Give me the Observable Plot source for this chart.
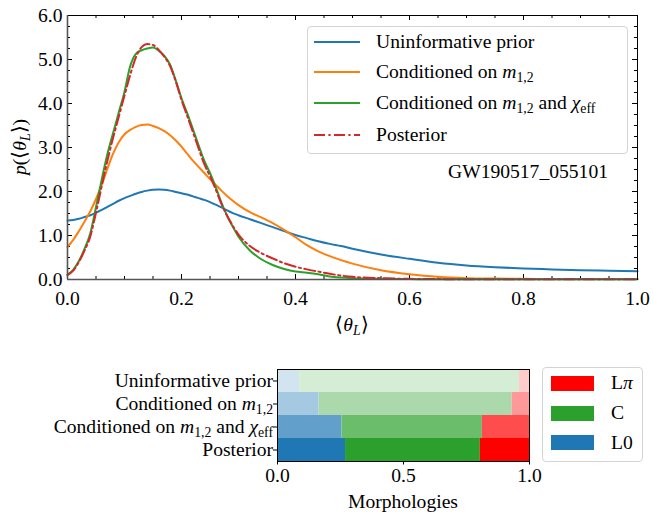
<!DOCTYPE html>
<html>
<head>
<meta charset="utf-8">
<script src="https://cdn.jsdelivr.net/npm/d3@7"></script>
<script src="https://cdn.jsdelivr.net/npm/@observablehq/plot@0.6"></script>
<style>
  body { margin: 0; background: #fff; }
  #root {
    position: relative; width: 653px; height: 512px; overflow: hidden;
    font-family: "Liberation Serif", serif;
    font-size: 19.6px; color: #000;
  }
  #root .abs { position: absolute; white-space: nowrap; line-height: 1; }
  #root sub { font-size: 70%; vertical-align: baseline; position: relative; top: 0.32em; }
  #root .math { font-style: italic; }
  .legend-box {
    position: absolute; border: 1px solid #d4d4d4; border-radius: 4px;
    background: rgba(255,255,255,0.85); box-sizing: border-box;
  }
</style>
</head>
<body>
<div id="root"></div>
<script>
// ---- Density curves of the mean tilt <theta_L> for GW190517_055101 ----
const theta = [
  0.00, 0.01, 0.02, 0.03, 0.04, 0.05, 0.06, 0.07, 0.08, 0.09,
  0.10, 0.11, 0.12, 0.13, 0.14, 0.15, 0.16, 0.17, 0.18, 0.19,
  0.20, 0.21, 0.22, 0.23, 0.24, 0.25, 0.26, 0.27, 0.28, 0.29,
  0.30, 0.32, 0.34, 0.36, 0.38, 0.40, 0.42, 0.44, 0.46, 0.48,
  0.50, 0.55, 0.60, 0.65, 0.70, 0.75, 0.80, 0.85, 0.90, 0.95, 1.00
];
const priorDensity = [
  1.34, 1.35, 1.38, 1.42, 1.46, 1.52, 1.58, 1.65, 1.72, 1.79,
  1.85, 1.90, 1.95, 1.99, 2.02, 2.04, 2.045, 2.04, 2.02, 1.99,
  1.96, 1.93, 1.89, 1.85, 1.81, 1.76, 1.70, 1.64, 1.57, 1.51,
  1.46, 1.37, 1.28, 1.19, 1.10, 1.01, 0.94, 0.87, 0.81, 0.76,
  0.70, 0.57, 0.47, 0.38, 0.32, 0.28, 0.25, 0.23, 0.21, 0.20, 0.19
];
const massDensity = [
  0.74, 0.90, 1.10, 1.32, 1.55, 1.83, 2.15, 2.52, 2.86, 3.12,
  3.30, 3.40, 3.47, 3.51, 3.52, 3.49, 3.44, 3.37, 3.28, 3.16,
  3.02, 2.86, 2.70, 2.56, 2.42, 2.28, 2.15, 2.02, 1.90, 1.79,
  1.69, 1.53, 1.41, 1.28, 1.13, 0.96, 0.78, 0.64, 0.53, 0.44,
  0.36, 0.21, 0.12, 0.06, 0.03, 0.02, 0.015, 0.01, 0.01, 0.01, 0.01
];
const massSpinDensity = [
  0.11, 0.22, 0.42, 0.70, 1.05, 1.65, 2.27, 2.85, 3.33, 3.80,
  4.27, 4.85, 5.13, 5.21, 5.25, 5.27, 5.20, 5.08, 4.88, 4.52,
  4.12, 3.78, 3.42, 3.05, 2.70, 2.42, 2.10, 1.75, 1.45, 1.20,
  0.97, 0.66, 0.46, 0.33, 0.24, 0.18, 0.155, 0.12, 0.07, 0.045,
  0.03, 0.015, 0.01, 0.005, 0.005, 0.005, 0.005, 0.005, 0.005, 0.005, 0.005
];
const posteriorDensity = [
  0.10, 0.20, 0.40, 0.66, 0.98, 1.52, 2.12, 2.70, 3.22, 3.70,
  4.18, 4.65, 5.05, 5.28, 5.35, 5.33, 5.22, 5.06, 4.85, 4.50,
  4.08, 3.72, 3.35, 2.98, 2.62, 2.35, 2.05, 1.72, 1.45, 1.22,
  1.02, 0.76, 0.60, 0.48, 0.37, 0.29, 0.23, 0.18, 0.13, 0.09,
  0.06, 0.03, 0.015, 0.01, 0.005, 0.005, 0.005, 0.005, 0.005, 0.005, 0.005
];
const xTickLabels = [0.0, 0.2, 0.4, 0.6, 0.8, 1.0];
const yTickLabels = [0.0, 1.0, 2.0, 3.0, 4.0, 5.0, 6.0];

// ---- Morphology fractions per analysis ----
const analyses = ["prior", "mass", "massSpin", "posterior"];
const morphologies = ["L0", "C", "Lπ"];
const fracL0  = [0.088, 0.165, 0.256, 0.270];
const fracC   = [0.872, 0.766, 0.557, 0.535];
const fracLpi = [0.040, 0.069, 0.187, 0.195];
const morphTickLabels = [0.0, 0.5, 1.0];

// ---- styling ----
const FONT = '"Liberation Serif", serif';
const FS = "19.6px";
const palette = { prior: "#1f77b4", mass: "#ff7f0e", massSpin: "#2ca02c", posterior: "#d62728" };
const morphColor = { "L0": "#1f77b4", "C": "#2ca02c", "Lπ": "#ff0000" };
const rowAlpha = [0.2, 0.4, 0.7, 1.0];
const dashDot = "11,3.4,2.2,3.4";

const root = document.getElementById("root");
const fmt1 = d3.format(".1f");

// ================= upper panel: densities =================
const W = 653, H1 = 340, ML = 67, MR = 16, MT = 15, MB = 61;
const frameW = W - ML - MR, frameH = H1 - MT - MB;
const xMinor = d3.range(0, 21).map(i => i * 0.05);
const yMinor = d3.range(0, 25).map(i => i * 0.25);
const curve = (values) => theta.map((t, i) => ({ t, p: values[i] }));
const lineOpts = (key, extra = {}) => ({ x: "t", y: "p", stroke: palette[key], strokeWidth: 2, curve: "monotone-x", ...extra });

const topPlot = Plot.plot({
  width: W, height: H1, marginLeft: ML, marginRight: MR, marginTop: MT, marginBottom: MB,
  x: { domain: [0, 1] },
  y: { domain: [0, 6] },
  style: { fontFamily: FONT, fontSize: FS, color: "#000", background: "transparent", overflow: "visible" },
  marks: [
    // inward ticks on all four sides
    Plot.tickX(xMinor, { x: d => d, stroke: "#000", insetTop: frameH - 3 }),
    Plot.tickX(xMinor, { x: d => d, stroke: "#000", insetBottom: frameH - 3 }),
    Plot.tickX(xTickLabels, { x: d => d, stroke: "#000", insetTop: frameH - 5 }),
    Plot.tickX(xTickLabels, { x: d => d, stroke: "#000", insetBottom: frameH - 5 }),
    Plot.tickY(yMinor, { y: d => d, stroke: "#000", insetRight: frameW - 3 }),
    Plot.tickY(yMinor, { y: d => d, stroke: "#000", insetLeft: frameW - 3 }),
    Plot.tickY(yTickLabels, { y: d => d, stroke: "#000", insetRight: frameW - 5 }),
    Plot.tickY(yTickLabels, { y: d => d, stroke: "#000", insetLeft: frameW - 5 }),
    Plot.axisX(xTickLabels, { tickSize: 0, tickPadding: 12, tickFormat: fmt1, label: null }),
    Plot.axisY(yTickLabels, { tickSize: 0, tickPadding: 5, tickFormat: fmt1, label: null }),
    Plot.line(curve(priorDensity), lineOpts("prior")),
    Plot.line(curve(massDensity), lineOpts("mass")),
    Plot.line(curve(massSpinDensity), lineOpts("massSpin")),
    Plot.line(curve(posteriorDensity), lineOpts("posterior", { strokeDasharray: dashDot })),
    Plot.frame({ stroke: "#000", strokeWidth: 1 }),
    Plot.ruleX([0], { stroke: "#555", strokeWidth: 1.6 }),
    Plot.ruleY([0], { stroke: "#555", strokeWidth: 1.6 })
  ]
});
const topWrap = document.createElement("div");
topWrap.style.cssText = "position:absolute;left:0;top:0;";
topWrap.appendChild(topPlot);
root.appendChild(topWrap);

function addText(html, css) {
  const d = document.createElement("div");
  d.className = "abs";
  d.innerHTML = html;
  d.style.cssText += css;
  root.appendChild(d);
  return d;
}

const M12 = '<span class="math">m</span><sub>1,2</sub>';
const CHI = '<span class="math">χ</span><sub>eff</sub>';
const TL = '⟨<span class="math">θ</span><sub class="math">L</sub>⟩';

// axis titles
addText(TL, "left:352px;top:325px;transform:translate(-50%,-50%);");
addText('<span class="math">p</span>(' + TL + ')', "left:20px;top:147px;transform:translate(-50%,-50%) rotate(-90deg);");
addText("GW190517_055101", "right:45px;top:172px;transform:translateY(-50%);");

// line legend
const lg = document.createElement("div");
lg.className = "legend-box";
lg.style.cssText += "left:307px;top:26px;width:321px;height:128px;";
root.appendChild(lg);
const lineEntries = [
  { key: "prior", label: "Uninformative prior", y: 42 },
  { key: "mass", label: "Conditioned on " + M12, y: 72 },
  { key: "massSpin", label: "Conditioned on " + M12 + " and " + CHI, y: 103 },
  { key: "posterior", label: "Posterior", y: 135, dash: dashDot }
];
for (const e of lineEntries) {
  const s = document.createElementNS("http://www.w3.org/2000/svg", "svg");
  s.setAttribute("width", 46); s.setAttribute("height", 6);
  s.style.cssText = `position:absolute;left:314px;top:${e.y - 3}px;`;
  const l = document.createElementNS("http://www.w3.org/2000/svg", "line");
  l.setAttribute("x1", 0); l.setAttribute("x2", 46); l.setAttribute("y1", 3); l.setAttribute("y2", 3);
  l.setAttribute("stroke", palette[e.key]); l.setAttribute("stroke-width", 2);
  if (e.dash) l.setAttribute("stroke-dasharray", e.dash);
  s.appendChild(l);
  root.appendChild(s);
  addText(e.label, `left:376px;top:${e.y}px;transform:translateY(-50%);`);
}

// ================= lower panel: morphology fractions =================
const H2 = 172, BT = 340, BML = 277, BMR = 124, BMT = 29, BMB = 51;
const fractions = { "L0": fracL0, "C": fracC, "Lπ": fracLpi };
const bars = analyses.flatMap((a, i) => morphologies.map(m => ({
  analysis: a, morph: m, frac: fractions[m][i],
  color: d3.interpolateRgb("#ffffff", morphColor[m])(rowAlpha[i])
})));

const botPlot = Plot.plot({
  width: W, height: H2, marginLeft: BML, marginRight: BMR, marginTop: BMT, marginBottom: BMB,
  x: { domain: [0, 1] },
  y: { domain: analyses, padding: 0 },
  color: { type: "identity" },
  style: { fontFamily: FONT, fontSize: FS, color: "#000", background: "transparent", overflow: "visible" },
  marks: [
    Plot.barX(bars, { x: "frac", y: "analysis", fill: "color", order: null }),
    Plot.axisX(morphTickLabels, { tickSize: 3.5, tickPadding: 3, tickFormat: fmt1, label: null }),
    Plot.axisY({ tickSize: 4, tickFormat: () => "", label: null }),
    Plot.frame({ stroke: "#000" })
  ]
});
const botWrap = document.createElement("div");
botWrap.style.cssText = `position:absolute;left:0;top:${BT}px;`;
botWrap.appendChild(botPlot);
root.appendChild(botWrap);

// row labels placed from the band scale
const yb = botPlot.scale("y");
const rowLabels = {
  prior: "Uninformative prior",
  mass: "Conditioned on " + M12,
  massSpin: "Conditioned on " + M12 + " and " + CHI,
  posterior: "Posterior"
};
for (const a of analyses) {
  const cy = BT + yb.apply(a) + yb.bandwidth / 2;
  addText(rowLabels[a], `right:${653 - 273}px;top:${cy}px;transform:translateY(-50%);`);
}
addText("Morphologies", `left:${(BML + W - BMR) / 2}px;top:502px;transform:translate(-50%,-50%);`);

// morphology legend
const lg2 = document.createElement("div");
lg2.className = "legend-box";
lg2.style.cssText += "left:542px;top:367px;width:101px;height:95px;";
root.appendChild(lg2);
const swatchY = { "Lπ": 383, "C": 413, "L0": 442.5 };
for (const m of ["Lπ", "C", "L0"]) {
  const sw = document.createElement("div");
  sw.style.cssText = `position:absolute;left:551px;top:${swatchY[m] - 7.5}px;width:43px;height:15px;background:${morphColor[m]};`;
  root.appendChild(sw);
  const lab = m === "Lπ" ? 'L<span class="math">π</span>' : m;
  addText(lab, `left:611px;top:${swatchY[m]}px;transform:translateY(-50%);`);
}
</script>
</body>
</html>
